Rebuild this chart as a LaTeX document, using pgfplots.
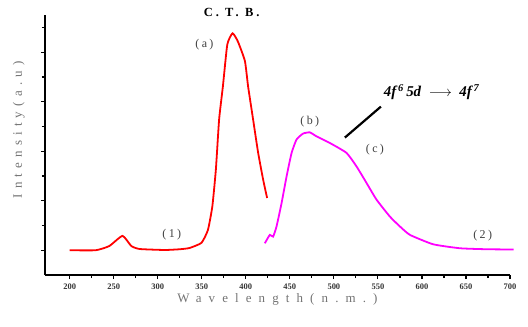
\documentclass[border=0pt]{standalone}
\usepackage{fontspec}
\setmainfont{Liberation Serif}
\newfontfamily\spfont{Liberation Serif}[LetterSpace=20]
\newfontfamily\spfontb{Liberation Serif}[LetterSpace=25]
\usepackage{pgfplots}
\pgfplotsset{compat=1.18}
\definecolor{labgray}{gray}{0.45}
\definecolor{mag}{RGB}{255,0,255}
\definecolor{rd}{RGB}{255,0,0}
\begin{document}
\begin{tikzpicture}
\useasboundingbox (-45bp,-52bp) rectangle (483bp,275bp);
\begin{axis}[
  at={(0,0)}, anchor=south west,
  scale only axis, width=465bp, height=260bp,
  xmin=172, xmax=700, ymin=0, ymax=10.5,
  axis lines=left,
  x axis line style={line width=1.6pt,-},
  y axis line style={line width=1.6pt,-},
  clip=false,
  xtick={200,250,...,700}, minor xtick={225,275,...,675},
  ytick={1,3,5,7,9}, minor ytick={2,4,6,8,10}, yticklabels={},
  tick align=outside, tick style={black, line width=1.2pt},
  major tick length=4bp, minor tick length=3bp,
  /pgf/number format/assume math mode=true,
  /pgf/number format/set thousands separator={},
  xticklabel style={font=\fontsize{8.5}{9}\selectfont\bfseries, text=black!80, yshift=-1bp},
  xlabel={\fontspec{Liberation Serif}[LetterSpace=55]Wavelength(n.m.)},
  xlabel style={font=\fontsize{13}{14}\selectfont, text=labgray, yshift=3bp},
  ylabel={\fontspec{Liberation Serif}[LetterSpace=40]Intensity(a.u)},
  ylabel style={font=\fontsize{13}{14}\selectfont, text=labgray, yshift=6bp, xshift=15bp},
]
\addplot[rd, line width=1.8pt, smooth, tension=0.3] coordinates {
(200,1.0) (229.5,1.0) (245,1.17) (260,1.58) (270,1.17) (279.5,1.05) (308,1.01)
(325,1.04) (336,1.09) (349.7,1.30) (357,1.82) (362,2.77) (366,4.25) (369.7,6.28)
(374,7.62) (379,9.31) (385,9.76) (391,9.43) (399,8.64) (402.6,7.62) (408.3,6.28)
(414,4.94) (419.7,3.85) (424.2,3.11)
};
\addplot[mag, line width=1.8pt, smooth, tension=0.3] coordinates {
(421.6,1.28) (427.3,1.62) (431,1.55) (434.9,1.96) (440.6,2.90) (446.3,3.98)
(452,4.93) (457.6,5.47) (465,5.71) (472.7,5.76) (480.3,5.60) (495.5,5.33)
(514.4,4.93) (525.8,4.38) (537.2,3.71) (548.5,3.04) (563.6,2.36) (575,1.96)
(586.4,1.62) (612.8,1.24) (643.2,1.08) (673.5,1.04) (704,1.03)
};
\draw[black, line width=2.2pt] (axis cs:512.5,5.55) -- (axis cs:553.4,6.8);
\node[font=\fontsize{12.5}{13}\selectfont\bfseries\spfontb] at (axis cs:384,10.6) {C. T. B.};
\node[font=\fontsize{12}{13}\selectfont\spfont, text=black!75] at (axis cs:353,9.3) {(a)};
\node[font=\fontsize{12}{13}\selectfont\spfont, text=black!75] at (axis cs:472.7,6.19) {(b)};
\node[font=\fontsize{12}{13}\selectfont\spfont, text=black!75] at (axis cs:546.6,5.06) {(c)};
\node[font=\fontsize{12}{13}\selectfont\spfont, text=black!75] at (axis cs:316,1.62) {(1)};
\node[font=\fontsize{12}{13}\selectfont\spfont, text=black!75] at (axis cs:669,1.58) {(2)};
\node[font=\fontsize{15}{16}\selectfont\bfseries] at (axis cs:611,7.4) {\textit{4f\textsuperscript{\,6}\,5d}\ \ $\longrightarrow$\ \ \textit{4f\textsuperscript{\,7}}};
\end{axis}
\end{tikzpicture}
\end{document}
